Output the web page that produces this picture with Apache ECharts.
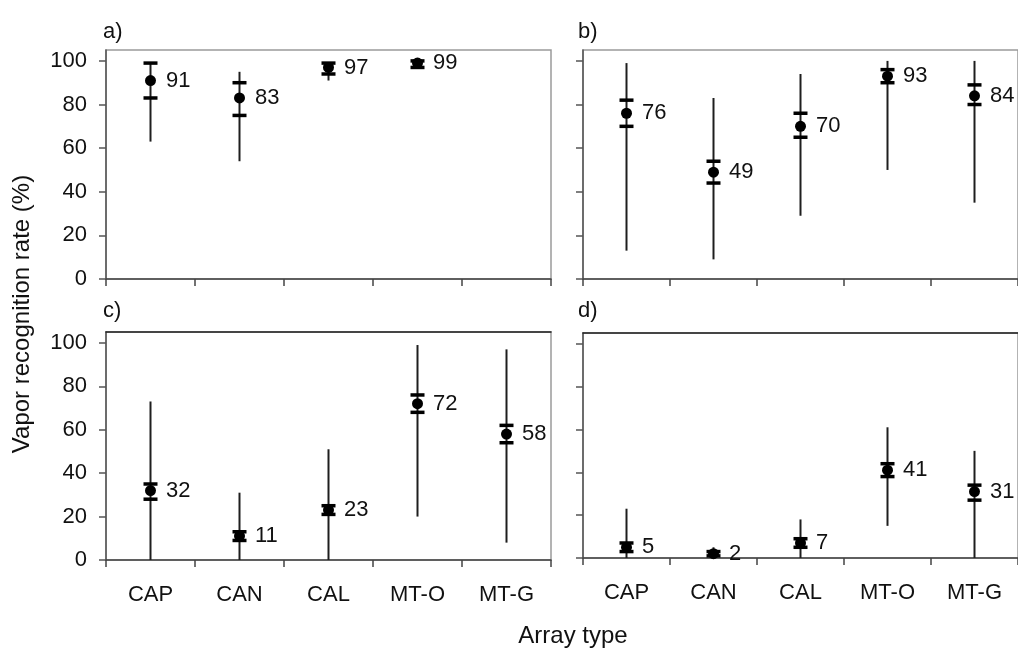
<!DOCTYPE html>
<html>
<head>
<meta charset="utf-8">
<script src="https://cdn.jsdelivr.net/npm/echarts@6/dist/echarts.min.js"></script>
<style>html,body{margin:0;padding:0;background:#fff;}#c{width:1018px;height:651px;}</style>
</head>
<body>
<div id="c"></div>
<script>
const categories = ['CAP', 'CAN', 'CAL', 'MT-O', 'MT-G'];
const yTicks = [0, 20, 40, 60, 80, 100];

// panel a
const aMean = [91, 83, 97, 99, null];
const aLo   = [83, 75, 94, 97, null];
const aHi   = [99, 90, 99, 100, null];
const aMin  = [63, 54, 91, 97, null];
const aMax  = [99, 95, 99, 100, null];
// panel b
const bMean = [76, 49, 70, 93, 84];
const bLo   = [70, 44, 65, 90, 80];
const bHi   = [82, 54, 76, 96, 89];
const bMin  = [13, 9, 29, 50, 35];
const bMax  = [99, 83, 94, 100, 100];
// panel c
const cMean = [32, 11, 23, 72, 58];
const cLo   = [28, 9, 21, 68, 54];
const cHi   = [35, 13, 25, 76, 62];
const cMin  = [0, 0, 0, 20, 8];
const cMax  = [73, 31, 51, 99, 97];
// panel d
const dMean = [5, 2, 7, 41, 31];
const dLo   = [3, 1, 5, 38, 27];
const dHi   = [7, 3, 9, 44, 34];
const dMin  = [0, 0, 0, 15, 0];
const dMax  = [23, 5, 18, 61, 50];

const panels = [
  {label: 'a)', mean: aMean, lo: aLo, hi: aHi, min: aMin, max: aMax},
  {label: 'b)', mean: bMean, lo: bLo, hi: bHi, min: bMin, max: bMax},
  {label: 'c)', mean: cMean, lo: cLo, hi: cHi, min: cMin, max: cMax},
  {label: 'd)', mean: dMean, lo: dLo, hi: dHi, min: dMin, max: dMax}
];

const FONT = '"Liberation Sans", Arial, sans-serif';
const TXT = '#111';
const FS = 22;
const grids = [
  {left: 106, top: 50, width: 445, height: 229},
  {left: 583, top: 50, width: 445, height: 229},
  {left: 106, top: 332, width: 445, height: 228},
  {left: 583, top: 333, width: 445, height: 225}
].map(g => Object.assign(g, {show: true, borderColor: '#9a9a9a', borderWidth: 1.5, containLabel: false}));

const xAxes = [], yAxes = [], series = [];
panels.forEach((p, i) => {
  const bottomRow = i >= 2;
  const leftCol = i % 2 === 0;
  xAxes.push({
    type: 'category', gridIndex: i, data: categories, boundaryGap: true,
    axisLine: {show: true, lineStyle: {color: '#444', width: 1.5}},
    axisTick: {show: true, length: 7, inside: false, lineStyle: {color: '#444', width: 1.5}},
    axisLabel: {show: bottomRow, margin: 24, fontSize: FS, color: TXT, fontFamily: FONT},
    splitLine: {show: false}
  });
  if (bottomRow) {
    xAxes.push({
      type: 'category', gridIndex: i, data: categories, position: 'top',
      axisLine: {show: true, lineStyle: {color: '#222', width: 1.5}},
      axisTick: {show: false}, axisLabel: {show: false}, splitLine: {show: false}
    });
  }
  yAxes.push({
    type: 'value', gridIndex: i, min: 0, max: 105,
    axisLine: {show: true, lineStyle: {color: '#555', width: 1.5}},
    axisTick: {show: true, length: 7, customValues: yTicks, lineStyle: {color: '#555', width: 1.5}},
    axisLabel: {show: leftCol, customValues: yTicks, margin: 19, fontSize: FS, color: TXT, fontFamily: FONT},
    splitLine: {show: false}
  });
});

let xIdx = 0;
panels.forEach((p, i) => {
  const bottomRow = i >= 2;
  const errData = [], meanData = [];
  categories.forEach((c, k) => {
    if (p.mean[k] == null) return;
    errData.push([k, p.min[k], p.lo[k], p.hi[k], p.max[k]]);
    meanData.push([k, p.mean[k]]);
  });
  series.push({
    type: 'custom', xAxisIndex: xIdx, yAxisIndex: i, data: errData, z: 3,
    renderItem: function (params, api) {
      const k = api.value(0);
      const pMin = api.coord([k, api.value(1)]);
      const pLo = api.coord([k, api.value(2)]);
      const pHi = api.coord([k, api.value(3)]);
      const pMax = api.coord([k, api.value(4)]);
      const hw = 7;
      return {
        type: 'group',
        children: [
          {type: 'line', shape: {x1: pMin[0], y1: pMin[1], x2: pMax[0], y2: pMax[1]}, style: {stroke: '#1e1e1e', lineWidth: 2}},
          {type: 'line', shape: {x1: pLo[0] - hw, y1: pLo[1], x2: pLo[0] + hw, y2: pLo[1]}, style: {stroke: '#000', lineWidth: 3.5}},
          {type: 'line', shape: {x1: pHi[0] - hw, y1: pHi[1], x2: pHi[0] + hw, y2: pHi[1]}, style: {stroke: '#000', lineWidth: 3.5}}
        ]
      };
    }
  });
  series.push({
    type: 'scatter', xAxisIndex: xIdx, yAxisIndex: i, data: meanData, z: 4,
    symbol: 'circle', symbolSize: 11, itemStyle: {color: '#000', opacity: 1},
    label: {show: true, position: 'right', distance: 10, fontSize: FS, color: TXT, fontFamily: FONT,
      formatter: d => String(d.value[1])},
    emphasis: {disabled: true}
  });
  xIdx += bottomRow ? 2 : 1;
});

const chart = echarts.init(document.getElementById('c'), null, {renderer: 'canvas'});
chart.setOption({
  animation: false,
  backgroundColor: '#fff',
  grid: grids,
  xAxis: xAxes,
  yAxis: yAxes,
  series: series,
  title: [
    {text: 'a)', left: 103, top: 21},
    {text: 'b)', left: 578, top: 21},
    {text: 'c)', left: 103, top: 300},
    {text: 'd)', left: 578, top: 300}
  ].map(t => Object.assign(t, {padding: 0, textStyle: {fontSize: FS, fontWeight: 'normal', color: TXT, fontFamily: FONT}})),
  graphic: [
    {type: 'text', x: 22, y: 314, rotation: Math.PI / 2,
      style: {text: 'Vapor recognition rate (%)', align: 'center', verticalAlign: 'middle', fontSize: 24, fill: TXT, fontFamily: FONT}},
    {type: 'text', x: 573, y: 636,
      style: {text: 'Array type', align: 'center', verticalAlign: 'middle', fontSize: 24, fill: TXT, fontFamily: FONT}}
  ]
});
</script>
</body>
</html>
